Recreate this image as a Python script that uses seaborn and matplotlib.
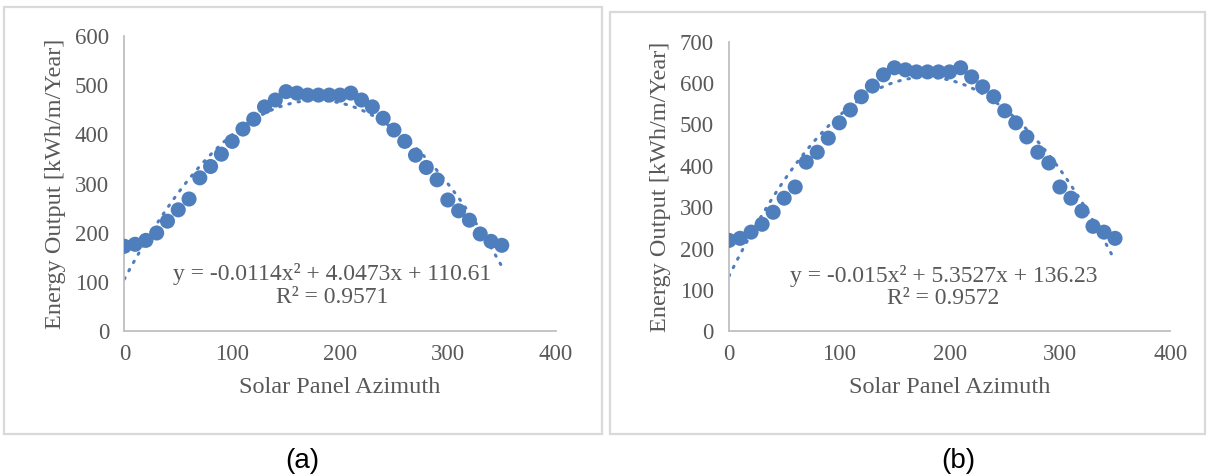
import numpy as np
import pandas as pd
import seaborn as sns
import matplotlib
matplotlib.use("Agg")
import matplotlib.pyplot as plt
from matplotlib.patches import Rectangle

# ---- data ----
azimuth = list(range(0, 360, 10))
energy_a = [173, 177, 185, 200, 224, 247, 269, 312, 335, 360,
            386, 411, 431, 456, 470, 487, 484, 480, 480, 480,
            480, 484, 470, 456, 433, 409, 386, 358, 333, 308,
            267, 245, 226, 198, 183, 175]
energy_b = [220, 225, 240, 259, 288, 322, 349, 409, 433, 467,
            504, 535, 567, 593, 620, 637, 632, 627, 627, 627,
            627, 637, 615, 591, 567, 533, 504, 470, 433, 407,
            349, 322, 291, 254, 240, 225]
eq_a = "y = -0.0114x² + 4.0473x + 110.61"
r2_a = "R² = 0.9571"
eq_b = "y = -0.015x² + 5.3527x + 136.23"
r2_b = "R² = 0.9572"
xticks = [0, 100, 200, 300, 400]
yticks_a = [0, 100, 200, 300, 400, 500, 600]
yticks_b = [0, 100, 200, 300, 400, 500, 600, 700]
xlabel = "Solar Panel Azimuth"
ylabel = "Energy Output [kWh/m/Year]"
panel_labels = ["(a)", "(b)"]

sns.set_style("white")
plt.rcParams['font.family'] = ['Liberation Serif', 'DejaVu Serif']

blue = "#4F7EBD"
tick_col = "#595959"
spine_col = "#BFBFBF"

fig = plt.figure(figsize=(12.07, 4.76), dpi=100)

# panel frames
for (x0, w, h) in [(0.0033, 0.4954, 0.897), (0.5054, 0.4930, 0.8866)]:
    fig.patches.append(Rectangle((x0, 0.0882), w, h, transform=fig.transFigure,
                                 fill=False, edgecolor="#D9D9D9", linewidth=1.6))

ax_a = fig.add_axes([0.1030, 0.3036, 0.3574, 0.6208])
ax_b = fig.add_axes([0.6040, 0.3036, 0.3655, 0.6088])

panels = [
    (ax_a, energy_a, yticks_a, eq_a, r2_a, 600, (0.481, 0.196, 0.115)),
    (ax_b, energy_b, yticks_b, eq_b, r2_b, 700, (0.486, 0.190, 0.114)),
]

for ax, vals, yt, eq, r2, ymax, tpos in panels:
    df = pd.DataFrame({"x": azimuth, "y": vals})
    sns.regplot(data=df, x="x", y="y", order=2, ci=None, scatter=False, ax=ax,
                line_kws=dict(color=blue, linewidth=2.2, linestyle=(0, (0.5, 2.6)),
                              dash_capstyle="round"))
    sns.scatterplot(data=df, x="x", y="y", ax=ax, color=blue, s=118,
                    edgecolor="none", zorder=3)
    ax.set_xlim(0, 400)
    ax.set_ylim(0, ymax)
    ax.set_xticks(xticks)
    ax.set_yticks(yt)
    ax.tick_params(length=0, labelsize=16.5, colors=tick_col)
    ax.tick_params(axis="y", pad=11)
    ax.tick_params(axis="x", pad=9)
    for s in ["top", "right"]:
        ax.spines[s].set_visible(False)
    for s in ["left", "bottom"]:
        ax.spines[s].set_color(spine_col)
        ax.spines[s].set_linewidth(1.3)
    ax.set_xlabel(xlabel, fontsize=17.5, color=tick_col, labelpad=9)
    ax.set_ylabel(ylabel, fontsize=17.5, color=tick_col, labelpad=6)
    ax.text(tpos[0], tpos[1], eq, transform=ax.transAxes, ha="center", va="center",
            fontsize=17, color=tick_col)
    ax.text(tpos[0], tpos[2], r2, transform=ax.transAxes, ha="center", va="center",
            fontsize=17, color=tick_col)

fig.text(302 / 1207, 1 - 461 / 476, panel_labels[0], ha="center", va="center",
         fontsize=20, family="Liberation Sans", color="black")
fig.text(958 / 1207, 1 - 461 / 476, panel_labels[1], ha="center", va="center",
         fontsize=20, family="Liberation Sans", color="black")

fig.savefig("out.png", dpi=100)
